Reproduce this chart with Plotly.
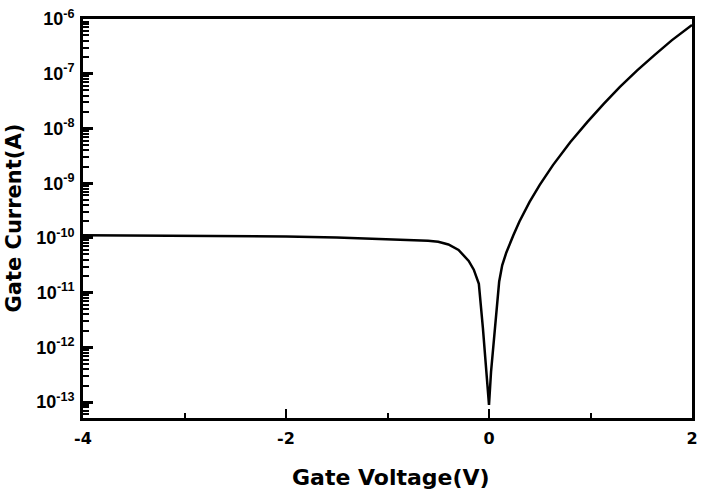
import plotly.graph_objects as go

# Gate voltage (V)
gate_voltage = [-4.0, -3.5, -3.0, -2.5, -2.0, -1.5, -1.0, -0.8, -0.6, -0.5, -0.4, -0.3,
                -0.2, -0.15, -0.1, -0.06, -0.02, 0.0,
                0.02, 0.055, 0.1, 0.13, 0.17, 0.24, 0.3, 0.4, 0.5, 0.63, 0.8, 0.97,
                1.13, 1.29, 1.46, 1.63, 1.8, 2.0]
# Gate current (A)
gate_current = [1.12e-10, 1.11e-10, 1.10e-10, 1.07e-10, 1.06e-10, 1.02e-10, 9.55e-11, 9.33e-11,
                8.91e-11, 8.51e-11, 7.59e-11, 6.03e-11,
                3.80e-11, 2.63e-11, 1.45e-11, 2.24e-12, 2.51e-13, 8.9e-14,
                3.55e-13, 2.0e-12, 1.58e-11, 3.16e-11, 5.37e-11, 1.12e-10, 2.0e-10, 4.57e-10,
                9.33e-10, 2.14e-9, 5.62e-9, 1.32e-8,
                2.82e-8, 5.75e-8, 1.15e-7, 2.19e-7, 4.07e-7, 7.76e-7]

x_ticks = [-4, -2, 0, 2]
x_minor_ticks = [-3, -1, 1]
y_exponents = [-6, -7, -8, -9, -10, -11, -12, -13]

y_tickvals = [10.0 ** e for e in y_exponents]
y_ticktext = ["10<sup>%d</sup>" % e for e in y_exponents]
y_minor_vals = [m * 10.0 ** e for e in range(-14, -5) for m in range(2, 10)]

Y_RANGE = [-13.29, -6.0]

fig = go.Figure()
fig.add_trace(go.Scatter(x=gate_voltage, y=gate_current, mode="lines",
                         line=dict(color="black", width=2.5), showlegend=False,
                         hoverinfo="x+y"))
# same data on an overlay axis that only carries the minor log ticks
fig.add_trace(go.Scatter(x=gate_voltage, y=gate_current, mode="lines", yaxis="y2",
                         line=dict(color="rgba(0,0,0,0)", width=0), showlegend=False,
                         hoverinfo="skip"))

FONT = "Liberation Sans, Arial, sans-serif"
TFONT = "DejaVu Sans, sans-serif"

fig.update_layout(
    width=705, height=495,
    margin=dict(l=83, r=7, t=19, b=77),
    paper_bgcolor="white", plot_bgcolor="white",
    font=dict(family=FONT, color="black"),
    xaxis=dict(
        range=[-4, 2], tickvals=x_ticks, ticktext=[str(v) for v in x_ticks],
        ticks="inside", ticklen=9, tickwidth=2, tickcolor="black",
        showline=True, linewidth=3, linecolor="black", mirror=True,
        showgrid=False, zeroline=False,
        tickfont=dict(family=TFONT, size=16, weight="bold"),
        ticklabelstandoff=4,
        minor=dict(tickvals=x_minor_ticks, ticks="inside", ticklen=5, tickwidth=2,
                   tickcolor="black", showgrid=False),
    ),
    yaxis=dict(
        type="log", range=Y_RANGE,
        tickmode="array", tickvals=y_tickvals, ticktext=y_ticktext,
        ticks="inside", ticklen=10, tickwidth=2.5, tickcolor="black",
        showline=True, linewidth=3, linecolor="black", mirror=True,
        showgrid=False, zeroline=False,
        tickfont=dict(family=FONT, size=18, weight="bold"),
        ticklabelstandoff=2,
    ),
    yaxis2=dict(
        type="log", range=Y_RANGE, overlaying="y", side="left", anchor="x",
        tickmode="array", tickvals=y_minor_vals, showticklabels=False,
        ticks="inside", ticklen=6, tickwidth=1.5, tickcolor="black",
        showline=False, showgrid=False, zeroline=False,
    ),
    annotations=[
        dict(text="Gate Current(A)", xref="paper", yref="paper", x=0, y=0.5,
             xanchor="center", yanchor="middle", xshift=-70, textangle=-90,
             showarrow=False, font=dict(family=TFONT, size=21, weight="bold")),
        dict(text="Gate Voltage(V)", xref="paper", yref="paper", x=0.5, y=0,
             xanchor="center", yanchor="middle", yshift=-59, xshift=3,
             showarrow=False, font=dict(family=TFONT, size=22, weight="bold")),
    ],
)

fig.write_html("out.html")
